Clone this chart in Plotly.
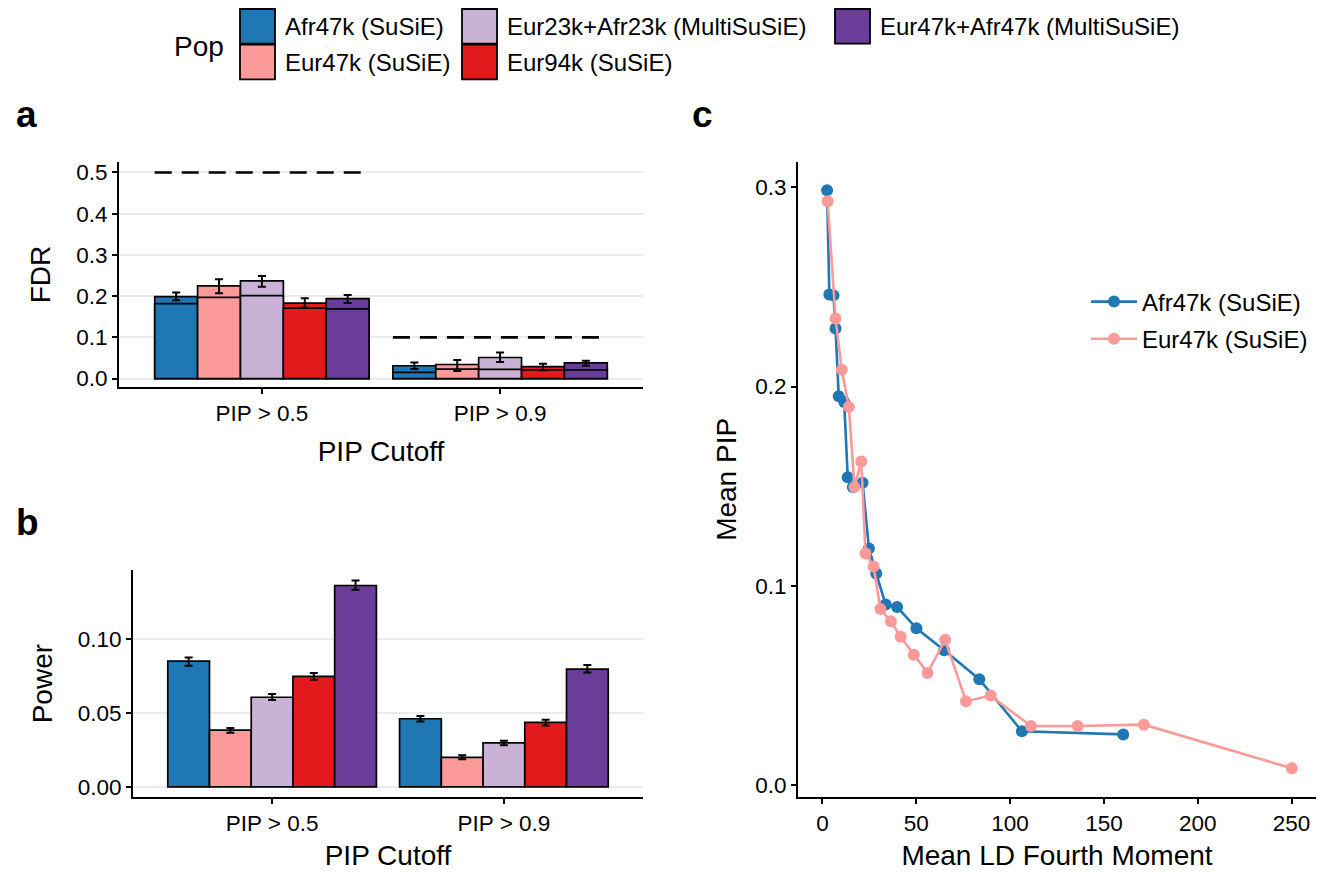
import plotly.graph_objects as go

W, H = 1326, 879          # reference picture size
OFF = 8                   # page body margin
FW, FH = W - 2 * OFF, H - 2 * OFF
FONT = "Liberation Sans, Arial, Helvetica, sans-serif"

# ---------------- data ----------------
cutoffs = ["PIP > 0.5", "PIP > 0.9"]
pops = ["Afr47k (SuSiE)", "Eur47k (SuSiE)", "Eur23k+Afr23k (MultiSuSiE)",
        "Eur94k (SuSiE)", "Eur47k+Afr47k (MultiSuSiE)"]
colors = ["#1F78B4", "#FB9A99", "#CAB2D6", "#E31A1C", "#6A3D9A"]

# panel a: FDR (outer bar), inner bar, error limits; one value per pop
fdr_05 = [0.199, 0.225, 0.237, 0.183, 0.194]
fdr_09 = [0.031, 0.034, 0.051, 0.029, 0.038]
fdr_inner_05 = [0.182, 0.197, 0.201, 0.171, 0.169]
fdr_inner_09 = [0.015, 0.023, 0.022, 0.021, 0.021]
fdr_lo_05 = [0.190, 0.207, 0.223, 0.172, 0.183]
fdr_hi_05 = [0.209, 0.241, 0.249, 0.195, 0.203]
fdr_lo_09 = [0.023, 0.018, 0.040, 0.020, 0.031]
fdr_hi_09 = [0.039, 0.045, 0.063, 0.036, 0.043]
fdr_target = [0.5, 0.1]

# panel b: Power
power_05 = [0.0852, 0.0384, 0.0607, 0.0748, 0.1364]
power_09 = [0.0461, 0.0200, 0.0297, 0.0436, 0.0798]
power_lo_05 = [0.0820, 0.0366, 0.0589, 0.0726, 0.1335]
power_hi_05 = [0.0876, 0.0398, 0.0629, 0.0771, 0.1398]
power_lo_09 = [0.0443, 0.0187, 0.0281, 0.0416, 0.0775]
power_hi_09 = [0.0479, 0.0213, 0.0312, 0.0454, 0.0825]

# panel c: Mean PIP vs mean LD fourth moment
afr_ld = [2.5, 3.7, 5.9, 7.0, 8.7, 11.6, 13.5, 16.2, 21.4, 24.8, 28.7, 33.7,
          39.8, 50.1, 64.9, 83.6, 106.3, 160.3]
afr_pip = [0.2986, 0.2463, 0.2458, 0.2292, 0.1951, 0.1923, 0.1545, 0.1495,
           0.1517, 0.1187, 0.1061, 0.0905, 0.0893, 0.0786, 0.0676, 0.0530,
           0.0269, 0.0253]
eur_ld = [2.8, 7.0, 10.3, 14.1, 17.1, 20.7, 23.0, 27.3, 30.9, 36.5, 41.7,
          48.7, 56.0, 65.4, 76.5, 89.7, 111.1, 136.0, 171.3, 250.1]
eur_pip = [0.2931, 0.2342, 0.2084, 0.1898, 0.1495, 0.1624, 0.1162, 0.1096,
           0.0883, 0.0821, 0.0744, 0.0653, 0.0562, 0.0728, 0.0420, 0.0448,
           0.0295, 0.0295, 0.0302, 0.0083]

# ---------------- helpers ----------------
def fx(p):
    return (p - OFF) / FW


def fy(p):
    return 1 - (p - OFF) / FH


SLOT = 0.18


def xpos(i):
    return [c + 1 + (i - 2) * SLOT for c in range(len(cutoffs))]


fig = go.Figure()
LW = 1.7

# ---- panel a ----
for i, pop in enumerate(pops):
    fig.add_trace(go.Bar(x=xpos(i), y=[fdr_05[i], fdr_09[i]], width=SLOT, name=pop,
                         marker=dict(color=colors[i], line=dict(color="black", width=LW)),
                         xaxis="x", yaxis="y", showlegend=False))
for i, pop in enumerate(pops):
    fig.add_trace(go.Bar(x=xpos(i), y=[fdr_inner_05[i], fdr_inner_09[i]], width=SLOT, name=pop,
                         marker=dict(color=colors[i], line=dict(color="black", width=LW)),
                         xaxis="x", yaxis="y", showlegend=False))
for i, pop in enumerate(pops):
    y = [fdr_05[i], fdr_09[i]]
    hi = [fdr_hi_05[i], fdr_hi_09[i]]
    lo = [fdr_lo_05[i], fdr_lo_09[i]]
    fig.add_trace(go.Scatter(x=xpos(i), y=y, mode="markers", marker=dict(size=1, opacity=0),
                             error_y=dict(type="data", symmetric=False,
                                          array=[h - v for h, v in zip(hi, y)],
                                          arrayminus=[v - l for v, l in zip(y, lo)],
                                          color="black", thickness=2, width=4),
                             xaxis="x", yaxis="y", showlegend=False, hoverinfo="skip"))
for c, thr in enumerate(fdr_target):
    fig.add_trace(go.Scatter(x=[c + 1 - 0.45, c + 1 + 0.45], y=[thr, thr], mode="lines",
                             line=dict(color="black", width=2.6, dash="17px,10px"),
                             xaxis="x", yaxis="y", showlegend=False, hoverinfo="skip"))

# ---- panel b ----
for i, pop in enumerate(pops):
    fig.add_trace(go.Bar(x=xpos(i), y=[power_05[i], power_09[i]], width=SLOT, name=pop,
                         marker=dict(color=colors[i], line=dict(color="black", width=LW)),
                         xaxis="x2", yaxis="y2", showlegend=False))
for i, pop in enumerate(pops):
    y = [power_05[i], power_09[i]]
    hi = [power_hi_05[i], power_hi_09[i]]
    lo = [power_lo_05[i], power_lo_09[i]]
    fig.add_trace(go.Scatter(x=xpos(i), y=y, mode="markers", marker=dict(size=1, opacity=0),
                             error_y=dict(type="data", symmetric=False,
                                          array=[h - v for h, v in zip(hi, y)],
                                          arrayminus=[v - l for v, l in zip(y, lo)],
                                          color="black", thickness=2, width=4),
                             xaxis="x2", yaxis="y2", showlegend=False, hoverinfo="skip"))

# ---- panel c ----
fig.add_trace(go.Scatter(x=afr_ld, y=afr_pip, mode="lines+markers", name=pops[0],
                         legendgroup="afr",
                         line=dict(color=colors[0], width=2.6),
                         marker=dict(color=colors[0], size=12),
                         xaxis="x3", yaxis="y3"))
fig.add_trace(go.Scatter(x=eur_ld, y=eur_pip, mode="lines+markers", name=pops[1],
                         legendgroup="eur",
                         line=dict(color=colors[1], width=2.6),
                         marker=dict(color=colors[1], size=12),
                         xaxis="x3", yaxis="y3"))

# ---------------- axes ----------------
tickfont = dict(family=FONT, size=22.5, color="black")
titlefont = dict(family=FONT, size=28, color="black")
common = dict(showline=True, linecolor="black", linewidth=1.8, ticks="outside",
              ticklen=5, tickwidth=1.8, tickcolor="black", zeroline=False,
              tickfont=tickfont, title_font=titlefont)

fig.update_layout(
    xaxis=dict(domain=[fx(119), fx(643)], anchor="y", range=[0.4, 2.6],
               tickvals=[1, 2], ticktext=cutoffs, showgrid=False,
               title=dict(text="PIP Cutoff", standoff=17), **common),
    yaxis=dict(domain=[fy(388.3), fy(161.6)], anchor="x", range=[-0.02, 0.525],
               tickvals=[0, 0.1, 0.2, 0.3, 0.4, 0.5], tickformat=".1f",
               showgrid=True, gridcolor="#EBEBEB", gridwidth=1.5,
               title=dict(text="FDR", standoff=18), **common),
    xaxis2=dict(domain=[fx(133), fx(643)], anchor="y2", range=[0.4, 2.6],
                tickvals=[1, 2], ticktext=cutoffs, showgrid=False,
                title=dict(text="PIP Cutoff", standoff=15), **common),
    yaxis2=dict(domain=[fy(802.5), fy(573.4)], anchor="x2", range=[-0.007, 0.1468],
                tickvals=[0, 0.05, 0.10], tickformat=".2f",
                showgrid=True, gridcolor="#EBEBEB", gridwidth=1.5,
                title=dict(text="Power", standoff=17), **common),
    xaxis3=dict(domain=[fx(798), fx(1316)], anchor="y3", range=[-13, 263],
                tickvals=[0, 50, 100, 150, 200, 250], showgrid=False,
                title=dict(text="Mean LD Fourth Moment", standoff=15), **common),
    yaxis3=dict(domain=[fy(802.5), fy(161)], anchor="x3", range=[-0.0062, 0.313],
                tickvals=[0, 0.1, 0.2, 0.3], tickformat=".1f", showgrid=False,
                title=dict(text="Mean PIP", standoff=11), **common),
)

# ---------------- top legend (fill) ----------------
shapes = []
annotations = []
key_x = [240, 462, 835]
key_y = [7, 43]
KEY = 35
for i, pop in enumerate(pops):
    col, row = divmod(i, 2)
    x0, y0 = key_x[col], key_y[row]
    shapes.append(dict(type="rect", xref="paper", yref="paper",
                       x0=fx(x0), x1=fx(x0 + KEY), y0=fy(y0 + KEY), y1=fy(y0),
                       fillcolor=colors[i], line=dict(color="black", width=1.8)))
    annotations.append(dict(xref="paper", yref="paper", x=fx(x0 + KEY + 8), y=fy(y0 + KEY / 2),
                            text=pop, showarrow=False, xanchor="left", yanchor="middle",
                            font=dict(family=FONT, size=24, color="black")))
annotations.append(dict(xref="paper", yref="paper", x=fx(172), y=fy(45), text="Pop",
                        showarrow=False, xanchor="left", yanchor="middle",
                        font=dict(family=FONT, size=28, color="black")))
# panel tags
for tag, px_, py_ in [("a", 14, 113), ("b", 14, 525), ("c", 690, 113)]:
    annotations.append(dict(xref="paper", yref="paper", x=fx(px_), y=fy(py_), text=f"<b>{tag}</b>",
                            showarrow=False, xanchor="left", yanchor="middle",
                            font=dict(family=FONT, size=37, color="black")))

fig.update_layout(
    width=FW, height=FH, margin=dict(l=0, r=0, t=0, b=0),
    paper_bgcolor="white", plot_bgcolor="white", barmode="overlay",
    shapes=shapes, annotations=annotations,
    font=dict(family=FONT, color="black"),
    legend=dict(x=fx(1086), y=fy(280), xanchor="left", yanchor="top",
                font=dict(family=FONT, size=24, color="black"),
                bgcolor="rgba(0,0,0,0)", itemwidth=46, tracegroupgap=3),
)

fig.write_html("out.html")
